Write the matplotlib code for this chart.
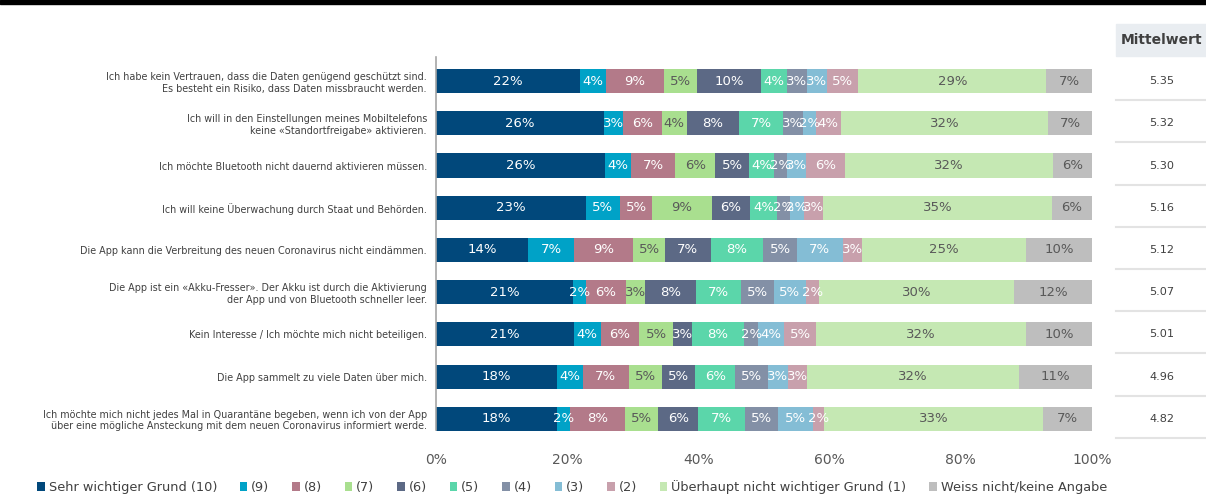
import matplotlib
matplotlib.use("Agg")
import matplotlib.pyplot as plt
import matplotlib.transforms as mtransforms
from matplotlib.patches import Rectangle
from matplotlib.lines import Line2D
import numpy as np

plt.rcParams['font.family'] = ['DejaVu Sans']

# Reasons (top to bottom)
categories = [
    "Ich habe kein Vertrauen, dass die Daten genügend geschützt sind.\nEs besteht ein Risiko, dass Daten missbraucht werden.",
    "Ich will in den Einstellungen meines Mobiltelefons\nkeine «Standortfreigabe» aktivieren.",
    "Ich möchte Bluetooth nicht dauernd aktivieren müssen.",
    "Ich will keine Überwachung durch Staat und Behörden.",
    "Die App kann die Verbreitung des neuen Coronavirus nicht eindämmen.",
    "Die App ist ein «Akku-Fresser». Der Akku ist durch die Aktivierung\nder App und von Bluetooth schneller leer.",
    "Kein Interesse / Ich möchte mich nicht beteiligen.",
    "Die App sammelt zu viele Daten über mich.",
    "Ich möchte mich nicht jedes Mal in Quarantäne begeben, wenn ich von der App\nüber eine mögliche Ansteckung mit dem neuen Coronavirus informiert werde.",
]

series_names = ["Sehr wichtiger Grund (10)", "(9)", "(8)", "(7)", "(6)", "(5)", "(4)",
                "(3)", "(2)", "Überhaupt nicht wichtiger Grund (1)", "Weiss nicht/keine Angabe"]

# shares in percent, one list per answer category
s10 = [22.0, 25.6, 25.8, 22.9, 14.1, 20.9, 21.0, 18.4, 18.5]
s9 = [3.9, 2.9, 4.0, 5.1, 6.9, 2.0, 4.1, 4.0, 2.0]
s8 = [8.8, 5.9, 6.7, 5.0, 9.1, 6.0, 5.9, 7.0, 8.3]
s7 = [5.1, 3.8, 6.1, 9.0, 4.8, 2.9, 5.1, 5.0, 5.1]
s6 = [9.8, 8.0, 5.1, 5.9, 7.0, 7.9, 2.9, 5.1, 6.1]
s5 = [3.9, 6.7, 3.8, 4.1, 8.0, 6.8, 8.0, 6.1, 7.1]
s4 = [3.0, 3.0, 2.0, 1.9, 5.1, 5.0, 2.1, 5.0, 5.0]
s3 = [3.1, 2.0, 2.9, 2.2, 7.0, 4.9, 3.9, 3.0, 5.3]
s2 = [4.8, 3.8, 6.0, 2.9, 2.9, 2.0, 5.0, 3.0, 1.8]
s1 = [28.6, 31.6, 31.6, 34.9, 25.0, 29.7, 31.9, 32.2, 33.4]
s_na = [7.0, 6.7, 6.0, 6.1, 10.1, 11.9, 10.1, 11.2, 7.4]

mittelwert = [5.35, 5.32, 5.30, 5.16, 5.12, 5.07, 5.01, 4.96, 4.82]

colors = ['#01487B', '#00A2C7', '#B37A89', '#A9DF8F', '#5C6985', '#5BD6AA',
          '#8390A6', '#84BDD5', '#C8A0AC', '#C5E8B3', '#BEBEBE']
dark_text = {3, 9, 10}  # light segments get grey labels

TEXT = '#404040'
W, H = 1206, 495

fig = plt.figure(figsize=(W / 100, H / 100), dpi=100)
# axes placed in pixel terms: x 436..1092, y 57..440
ax = fig.add_axes([436 / W, 1 - 440 / H, 656 / W, 383 / H])

all_series = [s10, s9, s8, s7, s6, s5, s4, s3, s2, s1, s_na]
y = np.arange(len(categories))
left = np.zeros(len(categories))
handles = []
for i, (vals, name, col) in enumerate(zip(all_series, series_names, colors)):
    vals = np.array(vals)
    bars = ax.barh(y, vals, left=left, height=0.57, color=col, label=name)
    handles.append(bars)
    tc = '#595959' if i in dark_text else 'white'
    for yy, l, v in zip(y, left, vals):
        ax.text(l + v / 2, yy, f'{v:.0f}%', ha='center', va='center',
                fontsize=9.5, color=tc)
    left += vals

ax.set_xlim(0, 100)
ax.set_ylim(8.5, -0.57)
ax.set_xticks(np.arange(0, 101, 20))
ax.set_xticklabels([f'{t}%' for t in range(0, 101, 20)], fontsize=10, color='#595959')
ax.set_yticks(y)
ax.set_yticklabels(categories, fontsize=6.9, color=TEXT)
ax.tick_params(axis='both', length=0)
ax.tick_params(axis='x', pad=9)
ax.tick_params(axis='y', pad=6.5)
for side in ['top', 'right', 'bottom']:
    ax.spines[side].set_visible(False)
ax.spines['left'].set_color('#A6A6A6')
ax.spines['left'].set_linewidth(1.2)
ax.spines['left'].set_bounds(-0.57, 8.26)

# Mittelwert column
blend = mtransforms.blended_transform_factory(fig.transFigure, ax.transData)
fig.patches.append(Rectangle((1116 / W, 1 - 56 / H), 90 / W, 32 / H,
                             transform=fig.transFigure, color='#E9EDF1', zorder=0))
fig.text(1162 / W, 1 - 40 / H, 'Mittelwert', ha='center', va='center',
         fontsize=10, fontweight='bold', color=TEXT)
for yy, m in zip(y, mittelwert):
    fig.text(1162 / W, yy, f'{m:.2f}', transform=blend, ha='center', va='center',
             fontsize=8.1, color=TEXT)
for k in range(1, 10):
    fig.lines.append(Line2D([1116 / W, 1.0], [k - 0.55, k - 0.55], transform=blend,
                            color='#E3E3E3', linewidth=1.5))

# black rule on top
fig.patches.append(Rectangle((0, 1 - 4 / H), 1, 4 / H, transform=fig.transFigure,
                             color='black', zorder=0))

fig.legend(handles=handles, labels=series_names, loc='center left',
           bbox_to_anchor=(37 / W, 1 - 487 / H), ncol=11, frameon=False,
           fontsize=9.3, labelcolor=TEXT, handlelength=0.6, handleheight=0.6,
           handletextpad=0.3, columnspacing=1.75, borderpad=0, borderaxespad=0)

fig.savefig('out.png', dpi=100)
